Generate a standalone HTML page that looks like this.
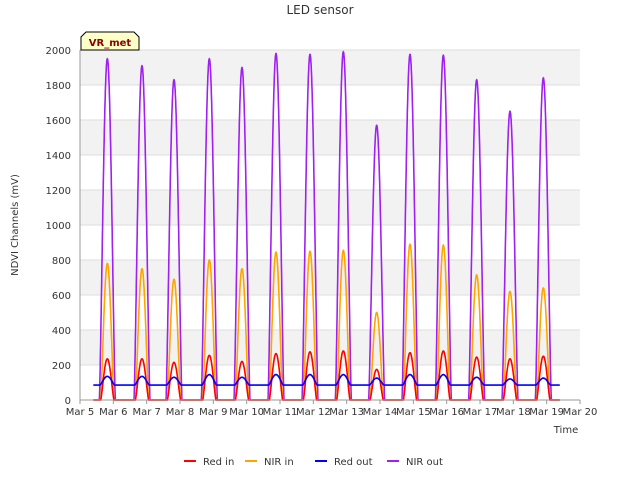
<!DOCTYPE html>
<html><head><meta charset="utf-8"><style>
body{margin:0;background:#fff;font-family:"DejaVu Sans",sans-serif}
</style></head><body>
<svg id="c" width="640" height="480" xmlns="http://www.w3.org/2000/svg" font-family="DejaVu Sans, sans-serif">
<text x="320" y="14" text-anchor="middle" font-size="12" fill="#333">LED sensor</text>
<g id="grid"></g>
<g id="series"></g>
<g id="axes"></g>
<text x="18" y="225" transform="rotate(-90 18 225)" text-anchor="middle" font-size="10" fill="#333">NDVI Channels (mV)</text>
<text x="566" y="433" text-anchor="middle" font-size="10" fill="#333">Time</text>
<g>
<path d="M81,50 L81,37 L86,32 L134,32 L139,37 L139,50 Z" fill="#ffffc8" stroke="#000" stroke-width="1"/>
<text x="110" y="46" text-anchor="middle" font-size="10" font-weight="bold" fill="#8b0000">VR_met</text>
</g>
<g id="legend" font-size="10" fill="#333"></g>
</svg>
<script>
const dayPeaks=[5.82,6.86,7.82,8.88,9.86,10.88,11.9,12.9,13.9,14.9,15.9,16.9,17.9,18.9];
const nirOut=[1950,1910,1830,1950,1900,1980,1975,1990,1570,1975,1970,1830,1650,1840];
const nirIn=[780,750,690,800,750,845,850,855,500,890,885,715,620,640];
const redIn=[235,235,215,255,220,265,275,280,175,270,280,245,235,250];
const redOut=[135,135,130,145,130,145,145,145,125,145,145,130,120,125];
const redOutBase=85;
const xTicks=["Mar 5","Mar 6","Mar 7","Mar 8","Mar 9","Mar 10","Mar 11","Mar 12","Mar 13","Mar 14","Mar 15","Mar 16","Mar 17","Mar 18","Mar 19","Mar 20"];
const yTicks=[0,200,400,600,800,1000,1200,1400,1600,1800,2000];
const X0=80,X1=580,Y0=400,Y1=50;
const xs=d=>X0+(d-5)/15*(X1-X0);
const ys=v=>Y0-v/2000*(Y0-Y1);
const NS="http://www.w3.org/2000/svg";
function mk(tag,at,parent){const e=document.createElementNS(NS,tag);for(const k in at)e.setAttribute(k,at[k]);parent.appendChild(e);return e;}
const grid=document.getElementById('grid'),axes=document.getElementById('axes'),ser=document.getElementById('series'),leg=document.getElementById('legend');
mk('rect',{x:X0,y:Y1,width:X1-X0,height:Y0-Y1,fill:'#fff'},grid);
for(let i=0;i<yTicks.length-1;i++){
  if(i%2===1){const b=mk('rect',{x:X0,y:ys(yTicks[i+1]),width:X1-X0,height:ys(yTicks[i])-ys(yTicks[i+1]),fill:'#f2f2f2'},grid);
  
  }
}
yTicks.forEach(v=>{
  const l=mk('line',{x1:X0,x2:X1,y1:ys(v),y2:ys(v),stroke:'#ddd'},grid);
  
  
  const t=mk('text',{x:X0-9,y:ys(v)+4,'text-anchor':'end','font-size':10,fill:'#333'},axes);t.textContent=v;
  
  
});
xTicks.forEach((s,i)=>{
  const x=xs(5+i);
  mk('line',{x1:x,x2:x,y1:Y0,y2:Y0+4,stroke:'#999'},axes);
  const t=mk('text',{x:x,y:Y0+15,'text-anchor':'middle','font-size':10,fill:'#333'},axes);t.textContent=s;
  
  
});
mk('line',{x1:X0,x2:X0,y1:Y1,y2:Y0,stroke:'#999'},axes);
mk('line',{x1:X0,x2:X1,y1:Y0,y2:Y0,stroke:'#999'},axes);
function build(peaks,hw,base){
  let pts=[];const start=5.4,end=19.4;
  for(let d=start;d<=end;d+=0.005){
    let v=base;
    dayPeaks.forEach((p,i)=>{const u=(d-p)/hw;if(Math.abs(u)<1){const b=Math.cos(u*Math.PI/2);v=Math.max(v,base+(peaks[i]-base)*Math.pow(b,1.3));}});
    pts.push(xs(d).toFixed(1)+','+ys(v).toFixed(1));
  }
  return pts.join(' ');
}
const series=[
 {name:'nir-out',label:'NIR out',color:'#a020f0',data:nirOut,hw:0.24,base:0},
 {name:'nir-in',label:'NIR in',color:'#ffa500',data:nirIn,hw:0.2,base:0},
 {name:'red-in',label:'Red in',color:'#ff0000',data:redIn,hw:0.2,base:0},
 {name:'red-out',label:'Red out',color:'#0000ff',data:redOut,hw:0.22,base:redOutBase}
];
series.forEach(s=>{
  const p=mk('polyline',{points:build(s.data,s.hw,s.base),fill:'none',stroke:s.color,'stroke-width':1.6},ser);
  
  
});
const legOrder=[series[2],series[1],series[3],series[0]];
const lx=[184,245,315,387];
legOrder.forEach((s,i)=>{
  const g=mk('g',{},leg);
  
  
  mk('line',{x1:lx[i],x2:lx[i]+12,y1:461,y2:461,stroke:s.color,'stroke-width':2},g);
  const t=mk('text',{x:lx[i]+19,y:465,'font-size':10,fill:'#333'},g);t.textContent=s.label;
});
</script>
</body></html>
